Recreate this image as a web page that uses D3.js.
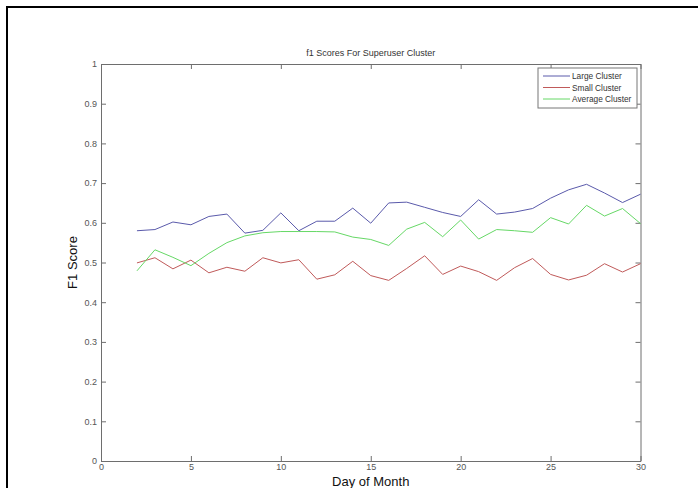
<!DOCTYPE html>
<html lang="en">
<head>
<meta charset="UTF-8">
<script src="https://d3js.org/d3.v7.min.js"></script>
<style>
    body { margin: 0; background: #fff; }
    svg { display: block; font-family: 'Liberation Sans', Arial, sans-serif; }
    .axis path, .axis line { stroke: #6e6e6e; }
    .axis text { fill: #555; font-size: 9px; }
</style>
</head>
<body>
<div id="chart"></div>
<script>
// Day of month (x) and the three series
const days = [2, 3, 4, 5, 6, 7, 8, 9, 10, 11, 12, 13, 14, 15, 16, 17, 18, 19, 20, 21, 22, 23, 24, 25, 26, 27, 28, 29, 30];
const largeCluster = [0.580, 0.583, 0.602, 0.595, 0.616, 0.622, 0.574, 0.581, 0.625, 0.580, 0.604, 0.604, 0.637, 0.599,
    0.650, 0.652, 0.639, 0.626, 0.616, 0.658, 0.622, 0.627, 0.636, 0.662, 0.683, 0.697, 0.675, 0.651, 0.672];
const smallCluster = [0.499, 0.512, 0.484, 0.506, 0.474, 0.488, 0.478, 0.512, 0.499, 0.507, 0.458, 0.469, 0.503, 0.467,
    0.455, 0.485, 0.517, 0.470, 0.491, 0.477, 0.455, 0.487, 0.510, 0.470, 0.456, 0.468, 0.497, 0.476, 0.497];
const avgCluster = [0.479, 0.532, 0.513, 0.492, 0.523, 0.550, 0.567, 0.575, 0.578, 0.578, 0.578, 0.577, 0.564, 0.558,
    0.543, 0.584, 0.601, 0.565, 0.607, 0.559, 0.583, 0.580, 0.576, 0.613, 0.597, 0.644, 0.617, 0.636, 0.598];
const xTicks = [0, 5, 10, 15, 20, 25, 30];
const yTicks = [0, 0.1, 0.2, 0.3, 0.4, 0.5, 0.6, 0.7, 0.8, 0.9, 1];
const seriesNames = ["Large Cluster", "Small Cluster", "Average Cluster"];

const width = 698, height = 488;
const m = { left: 101, right: 640.5, top: 64, bottom: 461 };

const svg = d3.select("#chart").append("svg")
    .attr("width", width)
    .attr("height", height);

// outer figure frame
svg.append("rect")
    .attr("x", 7).attr("y", 7)
    .attr("width", 720).attr("height", 520)
    .attr("fill", "none")
    .attr("stroke", "#000")
    .attr("stroke-width", 2);

const x = d3.scaleLinear().domain([0, 30]).range([m.left, m.right]);
const y = d3.scaleLinear().domain([0, 1]).range([m.bottom, m.top]);

// axes, ticks pointing inwards like matlab
svg.append("g").attr("class", "axis")
    .attr("transform", `translate(0,${m.bottom})`)
    .call(d3.axisBottom(x).tickValues(xTicks).tickSizeInner(-5).tickSizeOuter(0).tickPadding(3));

svg.append("g").attr("class", "axis")
    .attr("transform", `translate(0,${m.top})`)
    .call(d3.axisTop(x).tickValues(xTicks).tickSizeInner(-5).tickSizeOuter(0).tickFormat(""));

svg.append("g").attr("class", "axis")
    .attr("transform", `translate(${m.left},0)`)
    .call(d3.axisLeft(y).tickValues(yTicks).tickSizeInner(-5).tickSizeOuter(0).tickPadding(4)
        .tickFormat(d => d === 0 || d === 1 ? String(d) : d3.format(".1f")(d)));

svg.append("g").attr("class", "axis")
    .attr("transform", `translate(${m.right},0)`)
    .call(d3.axisRight(y).tickValues(yTicks).tickSizeInner(-5).tickSizeOuter(0).tickFormat(""));

// lines
const colors = ["#5a5aab", "#c05a5a", "#66d866"];
const allSeries = [largeCluster, smallCluster, avgCluster];
const line = d3.line().x((d, i) => x(days[i])).y(d => y(d));

allSeries.forEach((s, k) => {
    svg.append("path")
        .datum(s)
        .attr("d", line)
        .attr("fill", "none")
        .attr("stroke", colors[k])
        .attr("stroke-width", 1);
});

// title and labels
svg.append("text")
    .attr("x", (m.left + m.right) / 2)
    .attr("y", 56)
    .attr("text-anchor", "middle")
    .attr("font-size", "9px")
    .attr("fill", "#333")
    .text("f1 Scores For Superuser Cluster");

svg.append("text")
    .attr("x", (m.left + m.right) / 2)
    .attr("y", 486)
    .attr("text-anchor", "middle")
    .attr("font-size", "13px")
    .attr("fill", "#111")
    .text("Day of Month");

svg.append("text")
    .attr("transform", `translate(77,${(m.top + m.bottom) / 2}) rotate(-90)`)
    .attr("text-anchor", "middle")
    .attr("font-size", "13px")
    .attr("fill", "#111")
    .text("F1 Score");

// legend
const lg = svg.append("g").attr("transform", "translate(538,68)");
lg.append("rect")
    .attr("width", 99).attr("height", 40)
    .attr("fill", "#fff")
    .attr("stroke", "#777")
    .attr("stroke-width", 1);

seriesNames.forEach((name, k) => {
    const yy = 8 + k * 11.5;
    lg.append("line")
        .attr("x1", 5).attr("x2", 32)
        .attr("y1", yy).attr("y2", yy)
        .attr("stroke", colors[k]);
    lg.append("text")
        .attr("x", 34).attr("y", yy + 3)
        .attr("font-size", "8.3px")
        .attr("fill", "#333")
        .text(name);
});
</script>
</body>
</html>
